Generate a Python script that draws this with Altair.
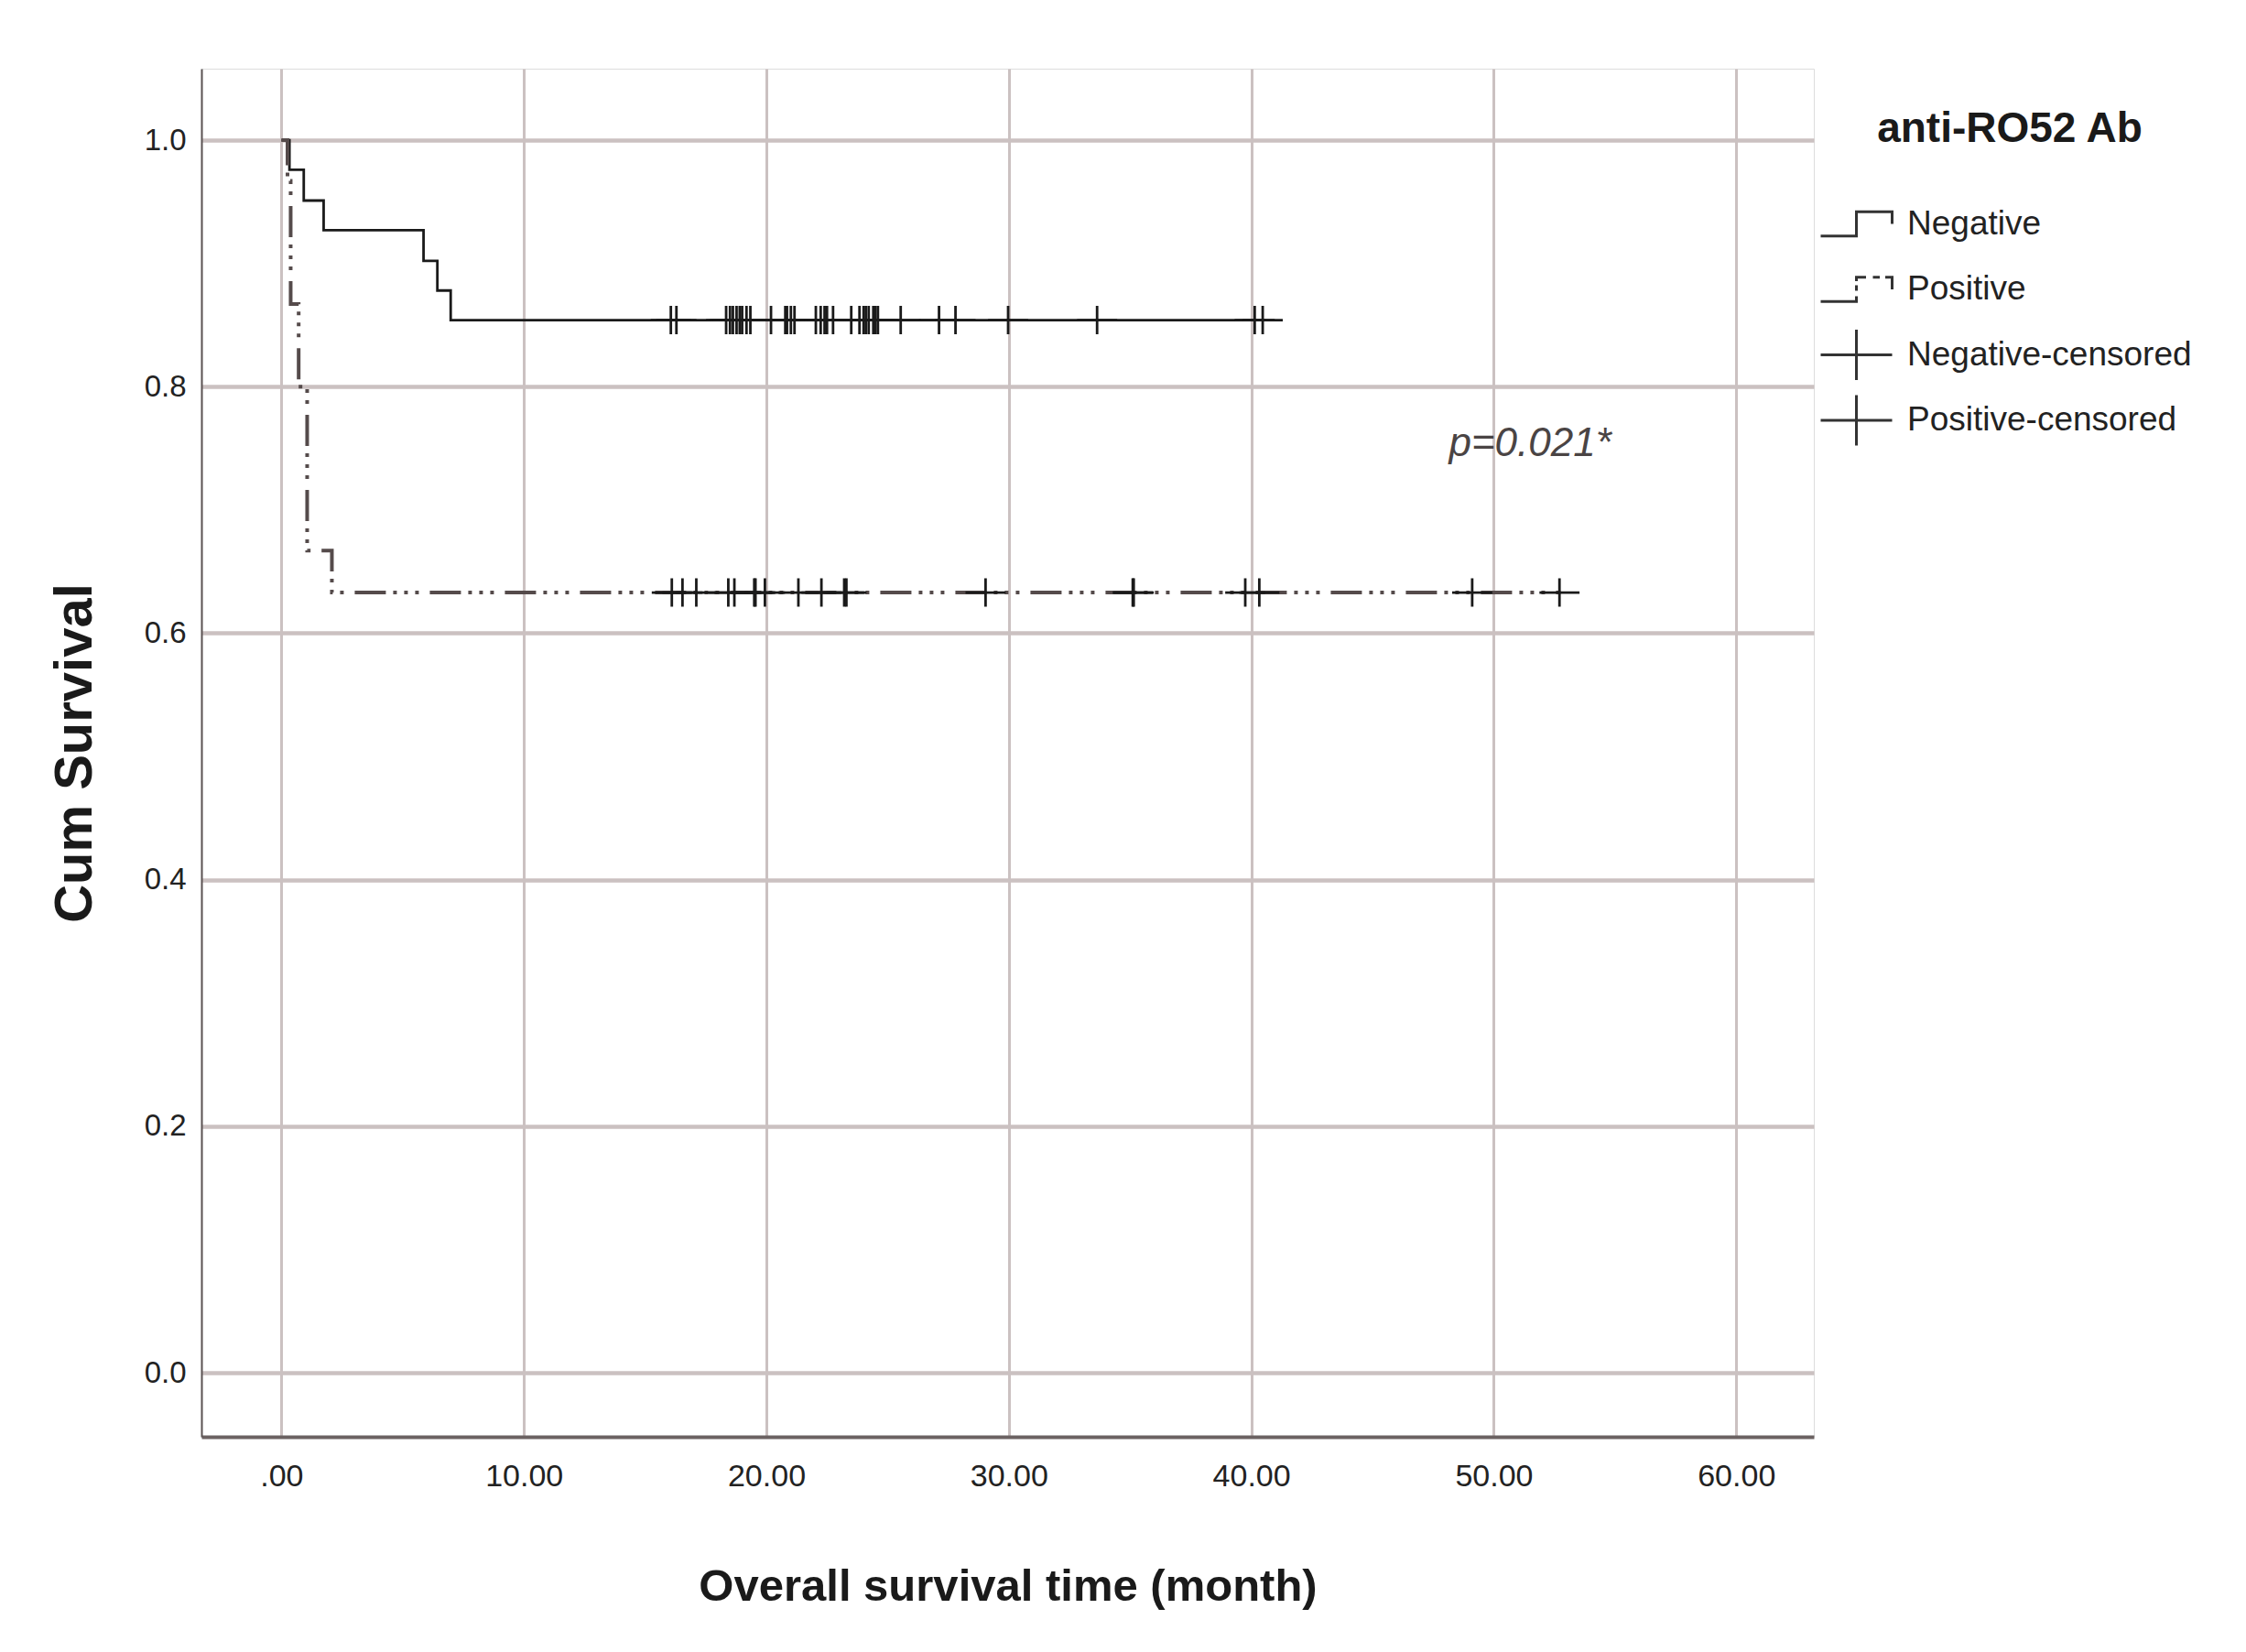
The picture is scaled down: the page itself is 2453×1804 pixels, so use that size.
import altair as alt
import pandas as pd

# ---- data ----
neg_time = [0.0, 0.33, 0.92, 1.74, 5.86, 6.43, 6.98, 40.6]
neg_surv = [1.0, 0.976, 0.951, 0.927, 0.902, 0.878, 0.854, 0.854]

pos_time = [0.0, 0.25, 0.38, 0.71, 1.06, 2.08, 52.75]
pos_surv = [1.0, 0.967, 0.867, 0.800, 0.667, 0.633, 0.633]

neg_censored = [16.06, 16.29, 18.34, 18.50, 18.62, 18.77, 18.90, 19.00, 19.18, 19.34,
                20.19, 20.78, 20.85, 21.01, 21.16, 22.04, 22.24, 22.40, 22.50, 22.75,
                23.50, 23.84, 24.01, 24.10, 24.22, 24.41, 24.50, 24.60, 25.54, 27.12,
                27.80, 29.97, 33.64, 40.14, 40.47]
pos_censored = [16.10, 16.54, 17.11, 18.43, 18.68, 19.50, 19.55, 19.94, 21.32, 22.27,
                23.21, 23.30, 29.04, 35.11, 35.15, 39.75, 40.33, 49.11, 52.71]

groups = ["Negative", "Positive", "Negative-censored", "Positive-censored"]
x_ticks = [0, 10, 20, 30, 40, 50, 60]
y_ticks = [0.0, 0.2, 0.4, 0.6, 0.8, 1.0]
p_text = "p=0.021*"
p_pos = (48.15, 0.744)


def surv_at(times, survs, t):
    s = survs[0]
    for ti, si in zip(times, survs):
        if ti <= t:
            s = si
    return s


neg_df = pd.DataFrame({"time": neg_time, "surv": neg_surv, "grp": "Negative"})
pos_df = pd.DataFrame({"time": pos_time, "surv": pos_surv, "grp": "Positive"})
cens_df = pd.DataFrame(
    [{"time": t, "surv": surv_at(neg_time, neg_surv, t), "grp": "Negative-censored"} for t in neg_censored]
    + [{"time": t, "surv": surv_at(pos_time, pos_surv, t), "grp": "Positive-censored"} for t in pos_censored]
)
txt_df = pd.DataFrame({"time": [p_pos[0]], "surv": [p_pos[1]], "label": [p_text]})

SANS = "Liberation Sans, Arial, sans-serif"

xscale = alt.Scale(domain=[-3.3, 63.2], nice=False, zero=False)
yscale = alt.Scale(domain=[-0.052, 1.058], nice=False, zero=False)

xaxis = alt.Axis(
    values=x_ticks,
    labelExpr="datum.value == 0 ? '.00' : format(datum.value, '.2f')",
    title="Overall survival time (month)",
    titleFont=SANS, titleFontSize=49, titleFontWeight="bold", titleColor="#1a1a1a",
    titleBaseline="alphabetic", titleY=178,
    labelFont=SANS, labelFontSize=34, labelColor="#222222", labelPadding=26,
    ticks=False, domainColor="#6b6262", domainWidth=4,
    grid=True, gridColor="#cbc1c1", gridWidth=3,
)
yaxis = alt.Axis(
    values=y_ticks, format=".1f",
    title="Cum Survival",
    titleFont=SANS, titleFontSize=58, titleFontWeight="bold", titleColor="#1a1a1a",
    titleAngle=-90, titleBaseline="alphabetic", titleX=-121,
    labelFont=SANS, labelFontSize=33, labelColor="#222222", labelPadding=17,
    ticks=False, domainColor="#5a5252", domainWidth=2,
    grid=True, gridColor="#cbc1c1", gridWidth=4.5,
)

x = alt.X("time:Q", scale=xscale, axis=xaxis)
y = alt.Y("surv:Q", scale=yscale, axis=yaxis)

neg_line = alt.Chart(neg_df).mark_line(
    interpolate="step-after", color="#1a1a1a", strokeWidth=2.8
).encode(x=x, y=y)

pos_line = alt.Chart(pos_df).mark_line(
    interpolate="step-after", color="#554b4b", strokeWidth=4,
    strokeDash=[34, 8, 4, 8, 4, 8, 4, 12]
).encode(x=x, y=y)

# legend / marker symbols (unit space); the bare moves keep every row the same height
pad = "M0,-1M0,1"
neg_path = "M-1.3,0.44H0V-0.44H1.3V0" + pad
pos_path = "M-1.3,0.44H0V0.25M0,0.05V-0.15M0,-0.3V-0.44H0.35M0.6,-0.44H0.85M1.05,-0.44H1.3V0" + pad
cens_path = "M-1.3,0H1.3M0,-0.92V0.92" + pad

cens = alt.Chart(cens_df).mark_point(
    filled=False, color="#1a1a1a", strokeWidth=2.8, size=1135, opacity=1
).encode(
    x=x, y=y,
    shape=alt.Shape(
        "grp:N",
        scale=alt.Scale(domain=groups, range=[neg_path, pos_path, cens_path, cens_path]),
        legend=alt.Legend(
            title="anti-RO52 Ab", orient="none", legendX=1776, legendY=44,
            titleFont=SANS, titleFontSize=46, titleFontWeight="bold", titleColor="#1a1a1a",
            titleAnchor="middle", titlePadding=48, titleLimit=800,
            labelFont=SANS, labelFontSize=37, labelColor="#222222", labelOffset=24,
            labelLimit=800,
            symbolSize=3600, symbolStrokeWidth=3, symbolStrokeColor="#333333",
            rowPadding=-1.5, padding=0,
        ),
    ),
)

ptext = alt.Chart(txt_df).mark_text(
    align="left", baseline="alphabetic", font=SANS, fontSize=44,
    fontStyle="italic", color="#4a4444"
).encode(x=x, y=y, text="label:N")

chart = alt.layer(neg_line, pos_line, cens, ptext).properties(
    width=1761, height=1494,
    autosize=alt.AutoSizeParams(type="none"),
    padding={"left": 212, "top": 67, "right": 450, "bottom": 215},
).configure_view(stroke="transparent").configure(background="white")

chart.save("out.html", embed_options={"renderer": "svg", "actions": False})
